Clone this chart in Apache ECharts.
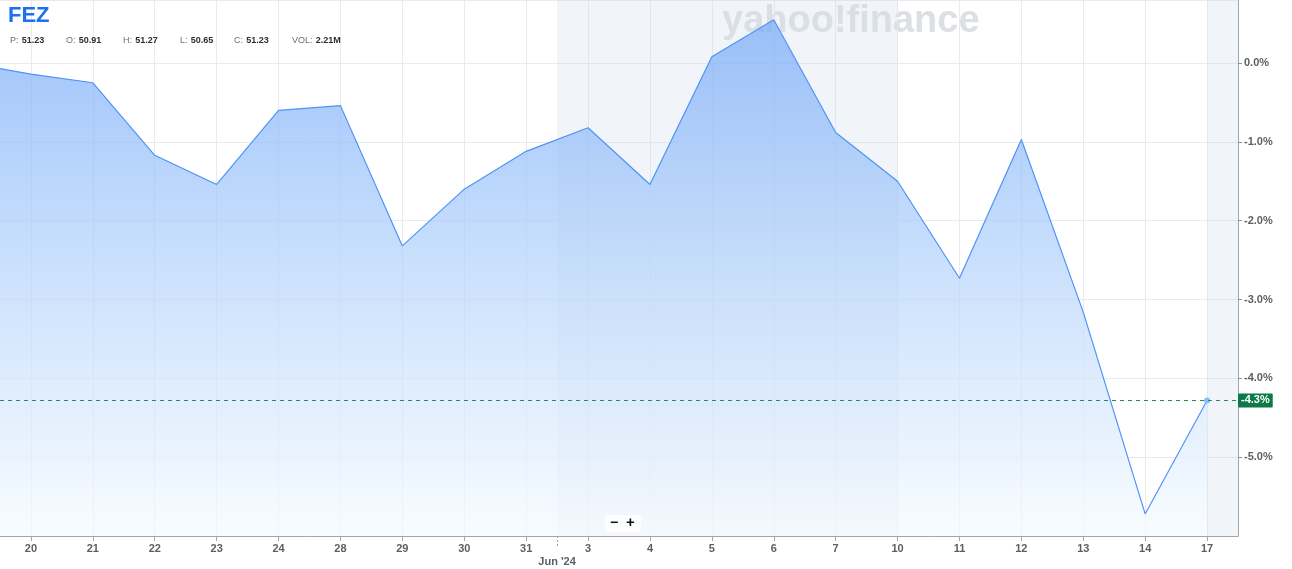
<!DOCTYPE html>
<html>
<head>
<meta charset="utf-8">
<script src="https://cdn.jsdelivr.net/npm/echarts@6/dist/echarts.min.js"></script>
<style>
html,body{margin:0;padding:0;background:#fff;}
#chart{width:1292px;height:569px;}
</style>
</head>
<body>
<div id="chart"></div>
<script>
// ---- data ----
const ticker = 'FEZ';
const dayLabels = ['20','21','22','23','24','28','29','30','31','3','4','5','6','7','10','11','12','13','14','17'];
const pctChange = [-0.14,-0.25,-1.17,-1.54,-0.60,-0.54,-2.32,-1.60,-1.12,-0.82,-1.54,0.08,0.55,-0.88,-1.50,-2.73,-0.97,-3.16,-5.72,-4.28];
const priorClose = 0.0;            // May 17 reference point (off the left edge)
const monthMarkLabel = "Jun '24";
const monthMarkPos = 8.5;          // between "31" and "3"
const shadedBands = [[8.5, 14], [19, 19.5]];
const yTicks = { min: -6, max: 0.8, interval: 1 };
const statLabels = ['P:', 'O:', 'H:', 'L:', 'C:', 'VOL:'];
const statValues = ['51.23', '50.91', '51.27', '50.65', '51.23', '2.21M'];
const lastLabel = '-4.3%';

const FONT = '"Liberation Sans", Arial, sans-serif';
const chart = echarts.init(document.getElementById('chart'), null, {renderer: 'canvas'});

const seriesData = [[-1, priorClose]].concat(pctChange.map((v, i) => [i, v]));
const lastIdx = seriesData.length - 1;
const lastVal = pctChange[pctChange.length - 1];

const statX = [10, 66, 123, 180, 234, 292];
const statGraphics = statLabels.map((l, i) => ({
  type: 'text', left: statX[i], top: 35, z: 100,
  style: {
    text: '{a|' + l + '} {b|' + statValues[i] + '}',
    rich: {
      a: {fontSize: 9, fill: '#6b6f75', fontFamily: FONT},
      b: {fontSize: 9, fill: '#2b2e33', fontWeight: 'bold', fontFamily: FONT}
    }
  }
}));

const option = {
  animation: false,
  backgroundColor: '#ffffff',
  grid: {left: 0, right: 54, top: 0, bottom: 33, containLabel: false},
  xAxis: [
    {
      type: 'category', data: dayLabels, boundaryGap: true,
      axisLine: {show: true, onZero: false, lineStyle: {color: '#a3a6ab', width: 1}},
      axisTick: {show: true, alignWithLabel: true, length: 5, lineStyle: {color: '#a3a6ab'}},
      axisLabel: {color: '#5b5f65', fontSize: 11, fontWeight: 'bold', fontFamily: FONT, margin: 7, interval: 0},
      splitLine: {show: true, alignWithLabel: true, lineStyle: {color: '#e9eaec', width: 1}}
    },
    {
      type: 'value', min: -0.5, max: 19.5, position: 'bottom',
      axisLine: {show: false, onZero: false},
      axisTick: {show: true, customValues: [monthMarkPos], length: 10, lineStyle: {color: '#a3a6ab', type: [2, 2]}},
      axisLabel: {show: true, customValues: [monthMarkPos], formatter: () => monthMarkLabel,
        color: '#5b5f65', fontSize: 11, fontWeight: 'bold', fontFamily: FONT, margin: 20},
      splitLine: {show: false}
    }
  ],
  yAxis: {
    type: 'value', position: 'right', min: yTicks.min, max: yTicks.max, interval: yTicks.interval,
    axisLine: {show: true, onZero: false, lineStyle: {color: '#a3a6ab', width: 1}},
    axisTick: {show: true, length: 4, lineStyle: {color: '#8d9096'}},
    axisLabel: {
      color: '#5b5f65', fontSize: 11, fontWeight: 'bold', fontFamily: FONT, margin: 6,
      showMinLabel: false, showMaxLabel: false,
      formatter: v => (Math.abs(v) < 1e-9 ? '0.0' : v.toFixed(1)) + '%'
    },
    splitLine: {show: true, lineStyle: {color: '#e9eaec', width: 1}}
  },
  series: [{
    type: 'line',
    xAxisIndex: 1,
    data: seriesData,
    smooth: false,
    clip: true,
    showSymbol: true,
    symbol: 'circle',
    symbolSize: (val, p) => (p.dataIndex === lastIdx ? 6 : 0),
    itemStyle: {color: '#7cc1fb', borderWidth: 0},
    lineStyle: {color: '#4f93f6', width: 1.2},
    areaStyle: {
      origin: 'start',
      color: new echarts.graphic.LinearGradient(0, 0, 0, 1, [
        {offset: 0, color: '#74a8f8'},
        {offset: 0.45, color: '#b0d1fb'},
        {offset: 1, color: '#f6fbff'}
      ])
    },
    markArea: {
      silent: true,
      itemStyle: {color: 'rgba(214,223,236,0.35)'},
      data: shadedBands.map(b => [{xAxis: b[0]}, {xAxis: b[1]}])
    },
    markLine: {
      silent: true,
      symbol: 'none',
      lineStyle: {color: '#1f8f63', type: [4, 4], width: 1},
      label: {
        show: true, position: 'end', formatter: () => lastLabel, distance: 0,
        backgroundColor: '#0b7a47', color: '#ffffff', fontSize: 11, fontWeight: 'bold',
        fontFamily: FONT, padding: [2, 3, 1, 3], borderRadius: 1
      },
      data: [{yAxis: lastVal}]
    }
  }],
  graphic: [
    {type: 'text', left: 722, top: 3, z: 0,
      style: {text: 'yahoo!finance', fontSize: 38, fontWeight: 'bold', fontFamily: FONT, fill: 'rgba(185,191,202,0.5)'}},
    {type: 'text', left: 8, top: 5, z: 100,
      style: {text: ticker, fontSize: 22, fontFamily: FONT, fill: '#1f6ff2', fontWeight: 'bold'}},
    ...statGraphics,
    {type: 'group', left: 605, top: 515, z: 100, children: [
      {type: 'rect', z: 100, shape: {x: 0, y: 0, width: 36, height: 17, r: 3}, style: {fill: 'rgba(255,255,255,0.85)'}},
      {type: 'text', z: 101, x: 5, y: 1, style: {text: '\u2212', fontSize: 14, fontWeight: 'bold', fill: '#111', fontFamily: FONT}},
      {type: 'text', z: 101, x: 21, y: 0, style: {text: '+', fontSize: 15, fontWeight: 'bold', fill: '#111', fontFamily: FONT}}
    ]}
  ]
};
chart.setOption(option);
</script>
</body>
</html>
